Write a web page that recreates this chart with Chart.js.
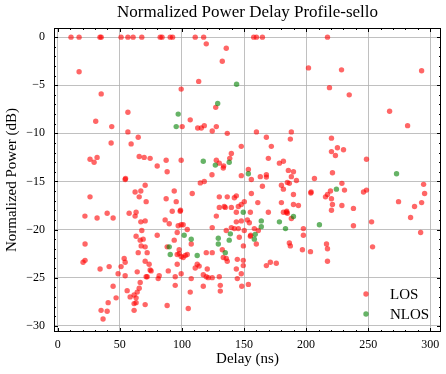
<!DOCTYPE html>
<html>
<head>
<meta charset="utf-8">
<script src="https://cdn.jsdelivr.net/npm/chart.js@4/dist/chart.umd.min.js"></script>
<style>
  html, body { margin: 0; padding: 0; background: #fff; }
  #c { display: block; }
</style>
</head>
<body>
<canvas id="c" width="446" height="374"></canvas>
<script>
var chartTitle = 'Normalized Power Delay Profile-sello';
var xLabel = 'Delay (ns)';
var yLabel = 'Normalized Power (dB)';
var xTicks = [0, 50, 100, 150, 200, 250, 300];
var yTicks = [-30, -25, -20, -15, -10, -5, 0];

// [delay ns, power dB]
var losPoints = [
  [10.7, 0], [17.2, 0], [34, 0], [35, 0], [51, 0], [56.5, 0], [60.7, 0], [67.7, 0], [82.5, 0], [84, 0],
  [90.6, 0], [92.5, 0], [110.7, 0], [117.5, 0], [157.8, 0], [160, 0], [164.8, 0], [217.2, 0],
  [17.2, -3.6], [35, -5.9], [56.5, -7.8], [30.6, -8.75], [43.5, -9.3], [56.5, -9.85],
  [119.6, -0.7], [135.7, -1.15], [132.5, -2.5], [113.5, -4.6], [99.4, -5.4], [127.2, -7.3], [106.7, -8.6],
  [100.2, -9.3], [112.7, -9.45], [115.6, -9.45], [118, -9.2], [127.7, -9.3], [124.4, -9.75],
  [201.9, -3.2], [228.5, -3.4], [218.8, -5.25], [160, -9.85], [188.1, -9.85],
  [293, -3.5], [234.7, -6.0], [267.2, -7.7], [281.7, -9.2],
  [64.8, -10.4], [43, -11.0], [59.1, -11.1], [65.6, -12.4], [26, -12.7], [31.7, -12.5], [29.3, -13.0],
  [54.3, -14.8], [54.6, -14.7], [26, -16.6], [62.3, -16.1], [66.9, -16.0], [65.6, -16.6], [21.9, -18.6],
  [31.7, -18.8], [39.8, -18.3], [44.6, -18.8], [57.5, -18.3], [63.1, -18.2], [62.3, -18.6], [66.9, -19.2],
  [136.5, -10.0], [69.6, -12.5], [74.4, -12.6], [80.1, -13.4], [87.3, -12.8], [88.1, -14.0], [99.4, -12.8],
  [127.7, -12.8], [130.1, -13.1], [133.3, -13.6], [133.6, -13.4], [138.5, -12.6], [139.8, -12.1],
  [124.2, -14.3], [147.8, -11.35], [147.8, -14.4], [114.8, -15.15], [118, -15.0], [70.4, -15.4],
  [93.8, -16.0], [108.3, -16.25], [71.2, -17.1], [87.3, -16.8], [95.4, -17.1], [130.1, -16.6],
  [136.5, -16.6], [143.8, -16.5], [142.2, -16.7], [130.1, -17.7], [134.9, -17.7], [139.8, -17.7],
  [134.1, -17.6], [145.4, -17.6], [147.8, -17.4], [92.2, -18.1], [98.6, -18.1], [98.9, -18.0],
  [70.4, -19.1], [86.5, -19.0], [89.8, -19.4], [99.4, -19.5], [101, -19.5], [97, -19.6], [104.3, -20.0],
  [96.2, -20.3], [67.7, -20.1], [124.4, -19.8], [127.7, -18.6], [135.7, -20.1], [139.8, -19.8],
  [142.2, -19.9], [145.4, -19.9], [143.8, -19.2], [147.8, -19.1], [143.8, -18.2],
  [168, -10.4], [187.3, -10.6], [220.4, -10.5], [172, -11.35], [225.2, -11.5], [220.4, -11.9],
  [223.6, -12.3], [169.6, -12.6], [178.5, -13.1], [181.7, -12.9], [153.5, -13.75], [185.7, -13.85],
  [189.8, -14.0], [221.2, -14.1], [163.1, -14.5], [168, -14.3], [168, -14.55], [155.9, -14.8],
  [188.1, -14.5], [192.2, -14.9], [184.9, -15.1], [186.5, -15.2], [180.1, -15.4], [181.7, -15.8],
  [164.8, -15.5], [206.7, -14.7], [203.8, -16.2], [204, -16.1], [189.8, -16.35], [155.9, -16.25],
  [215.6, -16.6], [217.2, -16.35], [219.6, -16.0], [220.4, -16.8], [221.2, -17.4], [220.4, -18.0],
  [228.8, -15.2], [228.8, -17.5], [150.2, -17.1], [161.1, -17.2], [180.1, -17.2], [189.8, -17.4],
  [193.8, -17.5], [155.1, -18.2], [169.6, -18.2], [181.7, -18.2], [184.1, -18.2], [184.4, -18.1],
  [184.9, -18.3], [188.1, -18.85], [152.7, -19.0], [154.3, -19.3], [158.3, -19.9], [161.5, -20.1],
  [197.8, -19.9], [150.2, -20.1],
  [230.1, -11.7], [248.6, -12.7], [230.9, -15.9], [246.2, -16.1], [248.6, -15.9], [238.1, -17.8],
  [294.6, -15.3], [295.4, -16.25], [274.4, -17.1], [293, -17.2], [287.3, -17.6], [284.1, -18.75],
  [252.7, -19.2], [238.1, -19.6], [292.2, -20.3],
  [22, -21.5], [20.4, -23.4], [22, -23.2], [34.1, -24.1], [41.4, -23.85], [51, -23.85], [53.5, -23.0],
  [54.3, -23.4], [48.6, -24.6], [54.3, -24.8], [63.1, -20.7], [66.4, -21.1], [67.2, -21.7], [64.8, -22.4],
  [64, -24.4], [66.4, -25.5], [65.6, -26.1], [64, -26.5], [44.6, -25.9], [47, -27.1], [55.9, -26.35],
  [58.3, -27.0], [61.5, -26.8], [63.1, -27.1], [61.5, -27.7], [63.1, -27.6], [61.5, -28.4], [40.6, -27.6],
  [34.9, -28.4], [39.8, -28.5], [36.5, -29.3],
  [80.1, -20.6], [93.8, -21.1], [107.5, -21.5], [68.8, -21.0], [70.4, -21.8], [88.1, -21.8], [72, -22.4],
  [97.8, -22.1], [97.8, -22.5], [99.4, -22.8], [102.7, -22.7], [104.3, -22.6], [101, -22.9], [96.2, -22.6],
  [119.6, -22.4], [124.4, -22.4], [132.5, -22.1], [133.3, -22.9], [135.7, -23.0], [136.5, -23.3],
  [146.2, -20.8], [144.6, -23.1], [143.8, -24.1], [147.8, -24.6], [70.4, -23.3], [73.6, -23.6],
  [74.4, -24.2], [75.2, -24.3], [71.2, -24.9], [72, -24.9], [81.7, -24.8], [80.9, -25.1], [89, -24.3],
  [96.2, -23.6], [94.6, -24.9], [99.4, -24.6], [107.5, -25.1], [110.7, -24.0], [112.3, -23.6],
  [113.9, -23.8], [120.4, -24.1], [117.2, -24.7], [119.6, -24.9], [121.2, -25.0], [124.4, -25.0],
  [130.1, -24.9], [94.6, -25.8], [106.7, -26.5], [117.2, -25.9], [130.9, -25.8], [130.9, -26.4],
  [144.6, -25.1], [70.4, -27.8], [88.1, -27.9], [105.1, -28.2],
  [155.1, -20.7], [155.4, -20.6], [149.5, -21.7], [159.9, -21.5], [186.5, -21.4], [187.3, -21.7],
  [197.8, -20.6], [197, -22.1], [203.5, -22.3], [216.4, -21.5], [217.2, -22.0], [217.2, -23.3],
  [168, -23.75], [171.2, -23.4], [176, -23.5], [149.4, -23.2], [149.4, -23.75], [148.2, -25.9],
  [153.5, -25.7], [253.5, -21.8]
];

var nlosPoints = [
  [144, -4.9], [128.8, -6.9], [97, -8.0], [95.4, -9.3], [117.2, -12.9], [126.9, -13.3], [138.1, -13.0],
  [139, -20.45], [153.5, -14.2], [224.4, -15.8], [189.8, -18.65], [149.4, -18.2], [163.9, -19.1],
  [163.9, -19.7], [178.5, -19.2], [183.4, -19.9], [210.7, -19.5], [159, -20.5], [272.8, -14.2],
  [101.8, -20.6], [107.5, -21.0], [89.8, -21.8], [90.6, -22.6], [112.3, -22.7], [129.3, -20.9],
  [129.3, -21.5], [138.1, -21.1], [134.9, -22.4], [158.3, -21.0]
];

var serif = "'Liberation Serif', 'Times New Roman', serif";

var toXY = function(list) {
    return list.map(function(p) { return { x: p[0], y: p[1] }; });
};

var minusLabel = function(v) {
    return v < 0 ? '\u2212' + Math.abs(v) : String(v);
};

// inward ticks on all sides, frame, title and legend
var decorPlugin = {
    id: 'decor',
    afterDraw: function(chart) {
        var ctx = chart.ctx;
        var a = chart.chartArea;
        var xs = chart.scales.x;
        var ys = chart.scales.y;
        ctx.save();
        ctx.strokeStyle = '#000';
        ctx.lineWidth = 1;
        ctx.beginPath();
        var v, p, len;
        for (v = 0; v <= 300; v += 10) {
            p = Math.round(xs.getPixelForValue(v)) + 0.5;
            len = (v % 50 === 0) ? 4 : 2;
            ctx.moveTo(p, a.bottom); ctx.lineTo(p, a.bottom - len);
            ctx.moveTo(p, a.top); ctx.lineTo(p, a.top + len);
        }
        for (v = -30; v <= 0; v += 1) {
            p = Math.round(ys.getPixelForValue(v)) + 0.5;
            len = (v % 5 === 0) ? 4 : 2;
            ctx.moveTo(a.left, p); ctx.lineTo(a.left + len, p);
            ctx.moveTo(a.right, p); ctx.lineTo(a.right - len, p);
        }
        ctx.stroke();
        ctx.strokeRect(Math.round(a.left) + 0.5, Math.round(a.top) + 0.5,
                       Math.round(a.right - a.left) - 1, Math.round(a.bottom - a.top) - 1);

        ctx.fillStyle = '#000';
        ctx.font = '17px ' + serif;
        ctx.textAlign = 'center';
        ctx.textBaseline = 'middle';
        ctx.fillText(chartTitle, (a.left + a.right) / 2, 13);

        // legend, lower right
        var items = chart.data.datasets;
        ctx.font = '15px ' + serif;
        ctx.textAlign = 'left';
        for (var i = 0; i < items.length; i++) {
            var ly = a.bottom - 38 + i * 20;
            ctx.beginPath();
            ctx.fillStyle = items[i].backgroundColor;
            ctx.arc(a.right - 75, ly, 2.7, 0, Math.PI * 2);
            ctx.fill();
            ctx.fillStyle = '#000';
            ctx.fillText(items[i].label, a.right - 51, ly + 1);
        }
        ctx.restore();
    }
};

var ctx = document.getElementById('c').getContext('2d');
var myChart = new Chart(ctx, {
    type: 'scatter',
    data: {
        datasets: [
            {
                label: 'LOS',
                data: toXY(losPoints),
                backgroundColor: 'rgba(255,0,0,0.6)',
                borderWidth: 0,
                pointRadius: 2.7,
                order: 1
            },
            {
                label: 'NLOS',
                data: toXY(nlosPoints),
                backgroundColor: 'rgba(0,128,0,0.6)',
                borderWidth: 0,
                pointRadius: 2.7,
                order: 0
            }
        ]
    },
    options: {
        responsive: false,
        animation: false,
        devicePixelRatio: 1,
        layout: { padding: { top: 28, right: 5, left: 0, bottom: 0 } },
        plugins: {
            legend: { display: false },
            tooltip: { enabled: false }
        },
        scales: {
            x: {
                type: 'linear',
                min: -3,
                max: 308.6,
                afterBuildTicks: function(s) { s.ticks = xTicks.map(function(v) { return { value: v }; }); },
                afterFit: function(s) { s.height = 42; },
                grid: { color: '#b0b0b0', lineWidth: 0.8, drawTicks: false },
                border: { display: false },
                ticks: { padding: 6, color: '#000', font: { family: serif, size: 12 }, maxRotation: 0 },
                title: { display: true, text: xLabel, color: '#000', font: { family: serif, size: 15 }, padding: { top: 0, bottom: 6 } }
            },
            y: {
                type: 'linear',
                min: -30.65,
                max: 0.95,
                afterBuildTicks: function(s) { s.ticks = yTicks.map(function(v) { return { value: v }; }); },
                afterFit: function(s) { s.width = 54; },
                grid: { color: '#b0b0b0', lineWidth: 0.8, drawTicks: false },
                border: { display: false },
                ticks: { padding: 9, color: '#000', font: { family: serif, size: 12 }, callback: minusLabel },
                title: { display: true, text: yLabel, color: '#000', font: { family: serif, size: 15 }, padding: { top: 3, bottom: 0 } }
            }
        }
    },
    plugins: [decorPlugin]
});
</script>
</body>
</html>
